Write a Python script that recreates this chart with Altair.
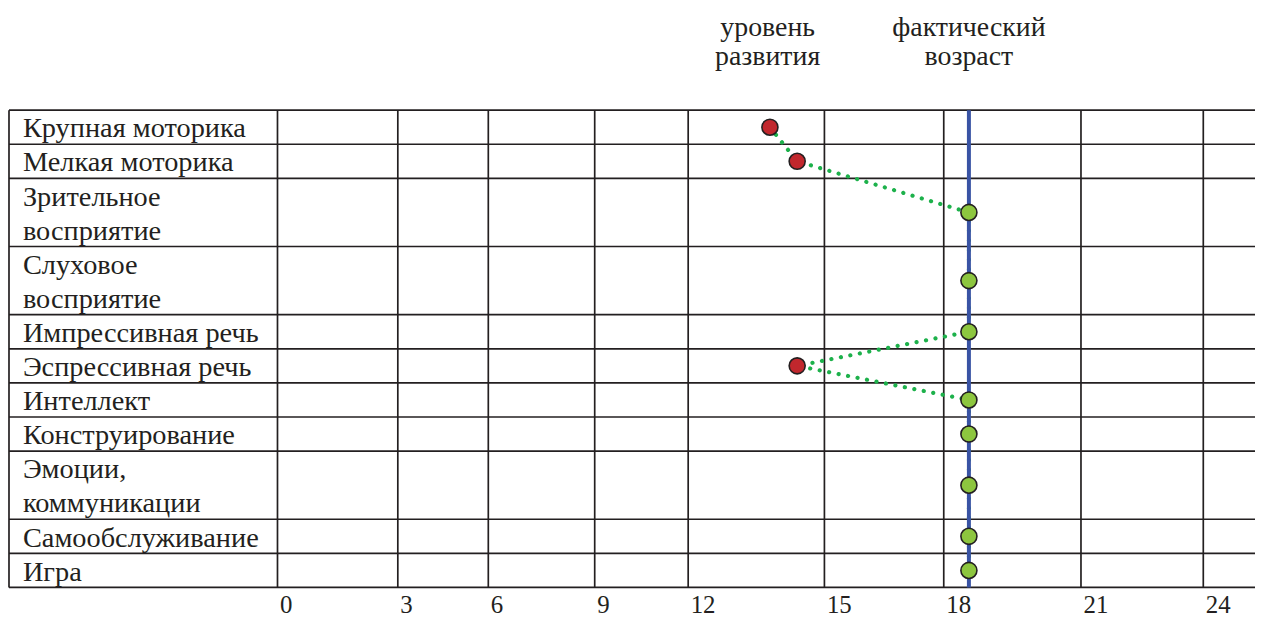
import altair as alt
import pandas as pd

# ---- data ----
categories = [
    "Крупная моторика",
    "Мелкая моторика",
    "Зрительное\nвосприятие",
    "Слуховое\nвосприятие",
    "Импрессивная речь",
    "Эспрессивная речь",
    "Интеллект",
    "Конструирование",
    "Эмоции,\nкоммуникации",
    "Самообслуживание",
    "Игра",
]
dev_level = [13.8, 14.4, 18.55, 18.55, 18.55, 14.4, 18.55, 18.55, 18.55, 18.55, 18.55]
actual_age = 18.55
age_ticks = [0, 3, 6, 9, 12, 15, 18, 21, 24]
header_labels = ["уровень\nразвития", "фактический\nвозраст"]
header_age = [13.75, 18.55]

# ---- layout / style ----
W, H = 1253, 480
col_px = [270, 391, 482, 589, 683, 820, 940, 1078, 1201]
FONT = "'Liberation Serif', 'Times New Roman', 'DejaVu Serif', serif"
INK = "#231f20"
LINE_W = 1.7

lines = [c.count("\n") + 1 for c in categories]
tops, t = [], 0
for n in lines:
    tops.append(t)
    t += n
n_units = t

rows = pd.DataFrame({
    "label": categories,
    "idx": list(range(len(categories))),
    "top": tops,
    "bottom": [a + b for a, b in zip(tops, lines)],
    "level": dev_level,
})
rows["center"] = (rows["top"] + rows["bottom"]) / 2
rows["status"] = ["below" if v < actual_age - 1 else "ok" for v in dev_level]

bounds = pd.DataFrame({"b": [0] + list(rows["bottom"])})
ticks_df = pd.DataFrame({"age": age_ticks})
age_df = pd.DataFrame({"age": [actual_age]})
head_df = pd.DataFrame({"text": header_labels, "age": header_age})

xscale = alt.Scale(domain=age_ticks, range=col_px, nice=False, zero=False)
xaxis = alt.Axis(values=age_ticks, domain=False, ticks=False, tickSize=0, grid=False,
                 labelAlign="left", labelBaseline="alphabetic", labelPadding=25,
                 labelFont=FONT, labelFontSize=25, labelColor=INK, title=None,
                 labelOffset=2)
yscale = alt.Scale(domain=[0, n_units], reverse=True, nice=False, zero=False)


def X(f):
    return alt.X(f, type="quantitative", scale=xscale, axis=xaxis)


def Y(f):
    return alt.Y(f, type="quantitative", scale=yscale, axis=None)


hlines = alt.Chart(bounds).mark_rule(color=INK, strokeWidth=LINE_W).encode(
    y=Y("b"), x=alt.value(0), x2=alt.value(W))
vlines = alt.Chart(ticks_df).mark_rule(color=INK, strokeWidth=LINE_W).encode(
    x=X("age"), y=alt.value(0), y2=alt.value(H))
left_edge = alt.Chart(age_df).mark_rule(color=INK, strokeWidth=LINE_W).encode(
    x=alt.value(0), y=alt.value(0), y2=alt.value(H))

path = alt.Chart(rows).mark_line(color="#1db14b", strokeWidth=4.2, strokeDash=[0.1, 9.6],
                                 strokeCap="round").encode(
    x=X("level"), y=Y("center"), order="idx:O")

blue = alt.Chart(age_df).mark_rule(color="#3953a4", strokeWidth=4).encode(
    x=X("age"), y=alt.value(0), y2=alt.value(H))

points = alt.Chart(rows).mark_circle(size=260, stroke=INK, strokeWidth=1.6, opacity=1).encode(
    x=X("level"), y=Y("center"),
    fill=alt.Fill("status:N", scale=alt.Scale(domain=["below", "ok"],
                                              range=["#c1272d", "#8dc63f"]), legend=None))

labels = alt.Chart(rows).mark_text(align="left", baseline="alphabetic", font=FONT, fontSize=28.5,
                                   color=INK, lineBreak="\n", lineHeight=34.29, dy=27.4).encode(
    x=alt.value(14), y=Y("top"), text="label:N")

header = alt.Chart(head_df).mark_text(align="center", baseline="alphabetic", font=FONT,
                                      fontSize=28, color=INK, lineBreak="\n",
                                      lineHeight=30).encode(
    x=X("age"), y=alt.value(-75), text="text:N")

chart = alt.layer(hlines, vlines, left_edge, path, blue, points, labels, header).properties(
    width=W, height=H,
    autosize=alt.AutoSizeParams(type="none"),
    padding={"left": 1, "top": 101, "right": 0, "bottom": 30},
).configure_view(stroke=None)

chart.save("out.html", embed_options={"renderer": "svg", "actions": False})
